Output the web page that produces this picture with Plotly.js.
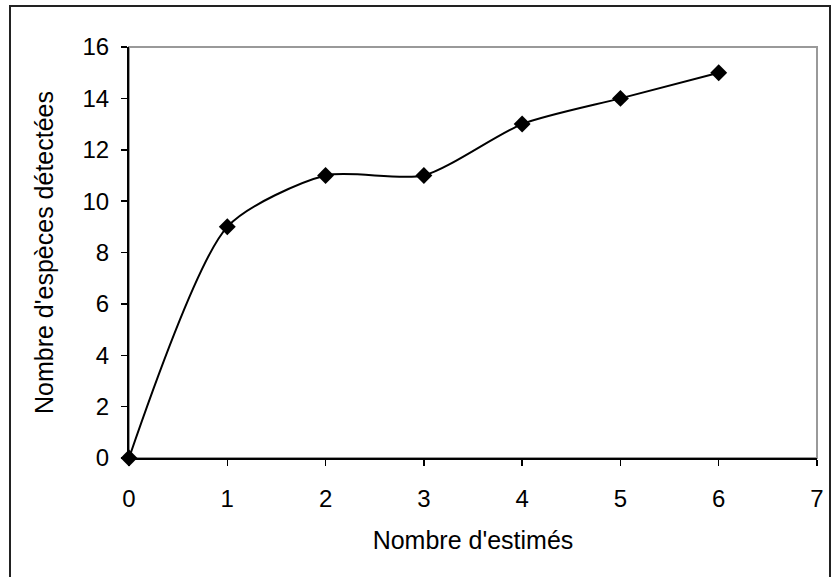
<!DOCTYPE html>
<html>
<head>
<meta charset="utf-8">
<script src="https://cdn.plot.ly/plotly-3.0.1.min.js"></script>
<style>
html,body{margin:0;padding:0;background:#fff;}
#chart{width:832px;height:577px;}
</style>
</head>
<body>
<div id="chart"></div>
<script>
const estimes = [0, 1, 2, 3, 4, 5, 6];
const especes = [0, 9, 11, 11, 13, 14, 15];
const xTitle = "Nombre d'estimés";
const yTitle = "Nombre d'espèces détectées";

const W = 832, H = 577;
const L = 129, R = 15, T = 47, B = 119;
const pw = W - L - R, ph = H - T - B;
function px(x){ return (x - L) / pw; }
function py(y){ return (H - B - y) / ph; }

const font = {family: "Liberation Sans, Arial, sans-serif", color: "#000"};

Plotly.newPlot('chart', [{
  x: estimes,
  y: especes,
  type: 'scatter',
  mode: 'lines+markers',
  line: {color: '#000', width: 2, shape: 'spline', smoothing: 0.7},
  marker: {symbol: 'diamond', size: 13, color: '#000'},
  cliponaxis: false,
  hoverinfo: 'x+y'
}], {
  width: W, height: H,
  margin: {l: L, r: R, t: T, b: B, pad: 0},
  paper_bgcolor: '#fff',
  plot_bgcolor: '#fff',
  showlegend: false,
  font: Object.assign({size: 24}, font),
  xaxis: {
    range: [0, 7], dtick: 1, tick0: 0,
    showgrid: false, zeroline: false,
    showline: true, linecolor: '#000', linewidth: 2,
    ticks: 'outside', ticklen: 6, tickwidth: 1.5, tickcolor: '#000',
    ticklabelstandoff: 12,
    tickfont: Object.assign({size: 24}, font),
    title: {text: xTitle, font: Object.assign({size: 25}, font), standoff: 21}
  },
  yaxis: {
    range: [0, 16], dtick: 2, tick0: 0,
    showgrid: false, zeroline: false,
    showline: true, linecolor: '#000', linewidth: 2,
    ticks: 'outside', ticklen: 6, tickwidth: 1.5, tickcolor: '#000',
    ticklabelstandoff: 7,
    tickfont: Object.assign({size: 24}, font),
    title: {text: yTitle, font: Object.assign({size: 25}, font), standoff: 22}
  },
  shapes: [
    {type: 'rect', xref: 'paper', yref: 'paper', x0: 0, x1: 1, y0: 0, y1: 1,
     line: {color: '#999', width: 2}, layer: 'below'},
    {type: 'rect', xref: 'paper', yref: 'paper',
     x0: px(10), x1: px(830), y0: py(590), y1: py(6),
     line: {color: '#222', width: 2}, layer: 'below'}
  ]
}, {displayModeBar: false, staticPlot: true});
</script>
</body>
</html>
